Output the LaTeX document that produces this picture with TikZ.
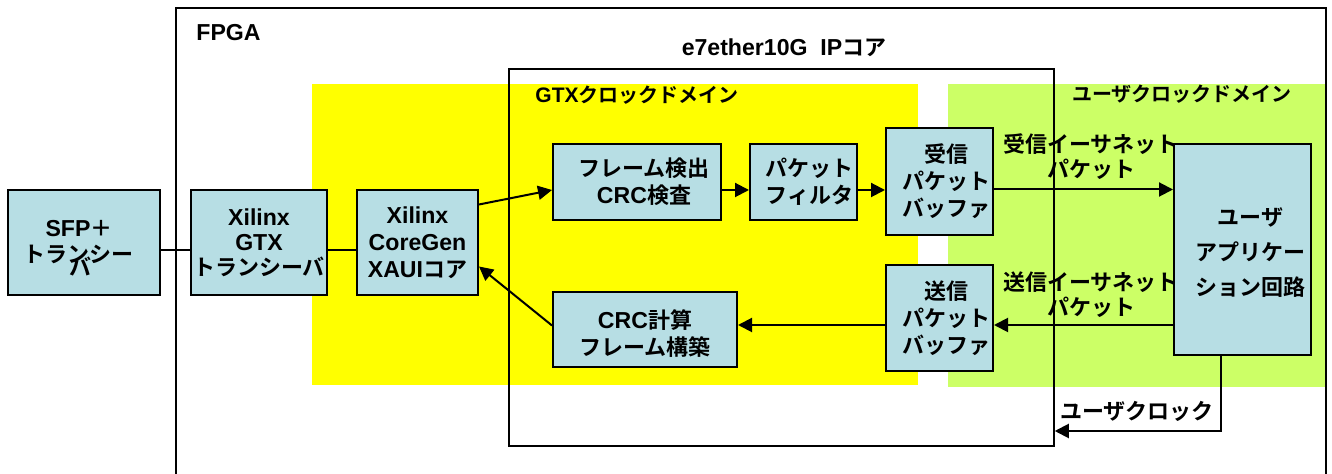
\documentclass[tikz,border=0pt]{standalone}
\usepackage{fontspec}
\setmainfont{Noto Sans CJK JP}[BoldFont={Noto Sans CJK JP Bold}]
\newfontfamily\latfont{Liberation Sans}[Scale=1.05]
\newcommand\latn[1]{{\latfont\bfseries #1}}
\usetikzlibrary{arrows.meta}
\definecolor{boxfill}{RGB}{183,222,228}
\definecolor{gtxyellow}{RGB}{255,255,0}
\definecolor{usergreen}{RGB}{204,255,102}
\begin{document}
\begin{tikzpicture}[x=0.5pt,y=-0.5pt,
  every node/.style={font=\bfseries\fontsize{11pt}{13.5pt}\selectfont},
  blk/.style={draw=black, line width=1pt, fill=boxfill, align=center, inner sep=0pt},
  txt/.style={align=center, inner sep=0pt},
  domlbl/.style={align=center, inner sep=0pt, font=\bfseries\fontsize{10pt}{12pt}\selectfont},
  conn/.style={line width=1pt},
  arr/.style={line width=1pt, -{Triangle[length=7pt,width=7pt]}},
]
\useasboundingbox (0,0) rectangle (1332,474);
% clock domains
\fill[gtxyellow] (312,84) rectangle (918,385);
\fill[usergreen] (948,84) rectangle (1325,387);
% FPGA frame (open at the bottom)
\draw[line width=1pt] (176,480) -- (176,8) -- (1326,8) -- (1326,480);
% IP core frame
\node[draw, line width=0.75pt, minimum width=272.5pt, minimum height=188.5pt, inner sep=0pt] (ipcore) at (781.5,257.5) {};
% titles
\node[anchor=west, inner sep=0pt] (fpgalbl) at (196,33) {\latn{FPGA}};
\node[txt] (iplbl) at (784,48) {\latn{e7ether10G\ \ IP}コア};
\node[domlbl] (gtxlbl) at (637,95) {\latn{GTX}クロックドメイン};
\node[domlbl] (usrlbl) at (1182,94) {ユーザクロックドメイン};
% blocks
\node[blk, minimum width=76pt, minimum height=52.5pt] (sfp) at (84,242.5) {};
\node[txt] (sfpt1) at (79,229) {\latn{SFP}＋};
\node[txt] (sfpt2) at (79,254) {トランシー};
\node[txt] (sfpt3) at (80,267) {バ};
\node[blk, minimum width=68pt, minimum height=52.5pt, font=\bfseries\fontsize{11pt}{12.5pt}\selectfont] (gtx) at (259,242.5) {\latn{Xilinx}\\\latn{GTX}\\トランシーバ};
\node[blk, minimum width=60.5pt, minimum height=52.5pt] (xaui) at (417.5,242.5) {\latn{Xilinx}\\\latn{CoreGen}\\\latn{XAUI}コア};
\node[blk, minimum width=84pt, minimum height=38pt, label={[txt,xshift=3.5pt]center:フレーム検出\\\latn{CRC}検査}] (frame) at (637,182) {};
\node[blk, minimum width=53.5pt, minimum height=38pt, label={[txt,xshift=3pt]center:パケット\\フィルタ}] (filter) at (803.5,182) {};
\node[blk, minimum width=53.5pt, minimum height=53.5pt, label={[txt,xshift=3.5pt]center:受信\\パケット\\バッファ}] (rx) at (939.5,181.5) {};
\node[blk, minimum width=53.5pt, minimum height=53pt, label={[txt,xshift=3.5pt]center:送信\\パケット\\バッファ}] (tx) at (939.5,318) {};
\node[blk, minimum width=92pt, minimum height=37.5pt, label={[txt,yshift=-2pt]center:\latn{CRC}計算\\フレーム構築}] (crc) at (645,329.5) {};
\node[blk, minimum width=68.5pt, minimum height=105.5pt, label={[txt,xshift=4pt,yshift=-1.5pt,font=\bfseries\fontsize{11pt}{17.5pt}\selectfont]center:ユーザ\\アプリケー\\ション回路}] (user) at (1242.5,249.5) {};
% connectors
\draw[conn] ([yshift=-4pt]sfp.east) -- ([yshift=-4pt]sfp.east -| gtx.west);
\draw[conn] ([yshift=-4pt]gtx.east) -- ([yshift=-4pt]gtx.east -| xaui.west);
\draw[arr] ([yshift=19pt]xaui.east) -- ([yshift=-4pt]frame.west);
\draw[arr] ([yshift=-4pt]frame.east) -- ([yshift=-4pt]frame.east -| filter.west);
\draw[arr] ([yshift=-4pt]filter.east) -- ([yshift=-4pt]filter.east -| rx.west);
\draw[arr] ([yshift=-4pt]rx.east) -- ([yshift=-4pt]rx.east -| user.west);
\draw[arr] ([yshift=-3.5pt]tx.east -| user.west) -- ([yshift=-3.5pt]tx.east);
\draw[arr] ([yshift=-3.5pt]tx.west) -- ([yshift=-3.5pt]tx.west -| crc.east);
\draw[arr] ([yshift=2pt]crc.west) -- ([yshift=-12pt]xaui.east);
\coordinate (clkturn) at (1220,431);
\draw[arr] ([xshift=-11pt]user.south) |- (ipcore.east |- clkturn);
% connector labels
\node[txt, font=\bfseries\fontsize{11pt}{12.5pt}\selectfont] (rxlbl) at (1091,157) {受信イーサネット\\パケット};
\node[txt, font=\bfseries\fontsize{11pt}{12.5pt}\selectfont] (txlbl) at (1091,294.5) {送信イーサネット\\パケット};
\node[txt] (clklbl) at (1137,411) {ユーザクロック};
\end{tikzpicture}
\end{document}
